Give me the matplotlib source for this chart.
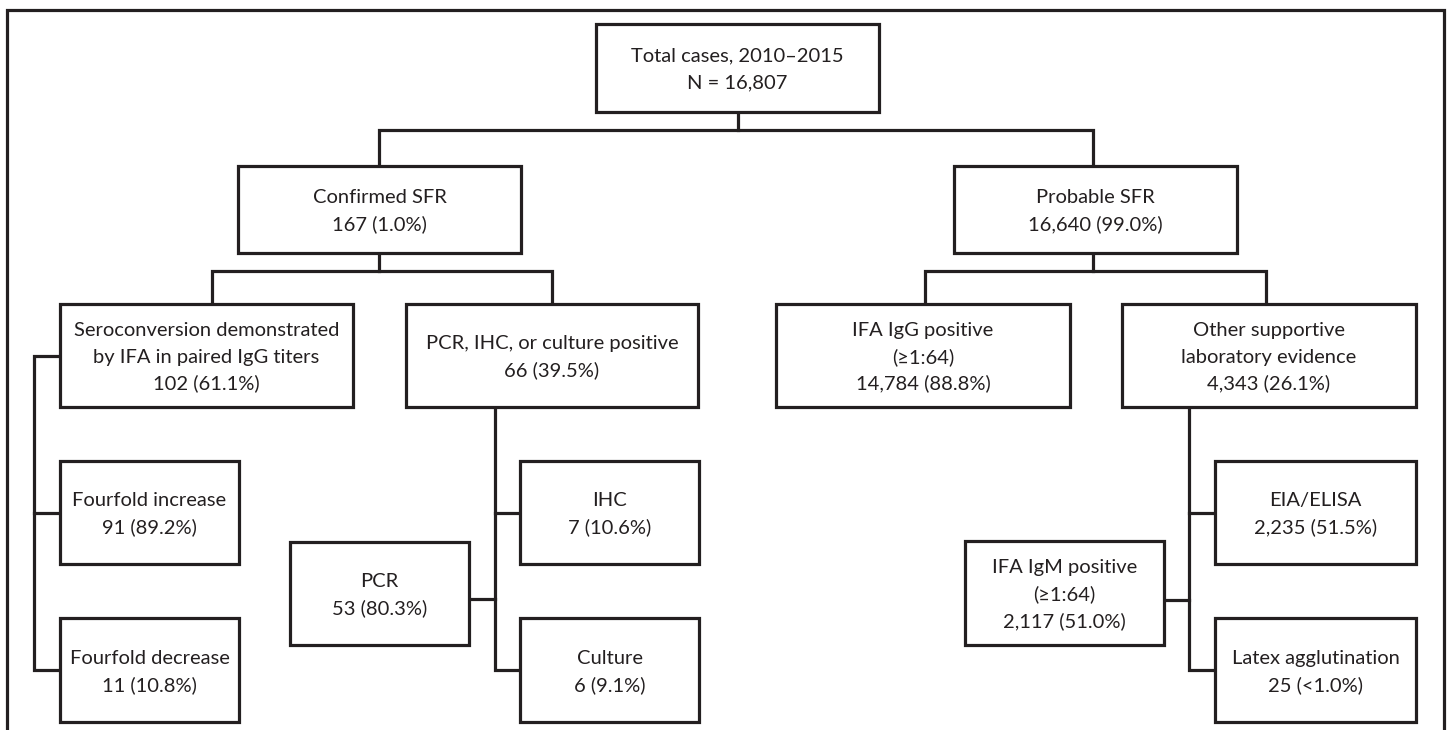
import matplotlib
matplotlib.use("Agg")
import matplotlib.pyplot as plt
from matplotlib.patches import Rectangle

# ---- data (labels, counts, percentages) ----
node_ids = ["total", "confirmed", "probable", "sero", "pcrihc", "ifaigg", "other",
            "inc", "dec", "pcr", "ihc", "culture", "igm", "eia", "latex"]
node_titles = ["Total cases, 2010\u20132015",
               "Confirmed SFR",
               "Probable SFR",
               "Seroconversion demonstrated\nby IFA in paired IgG titers",
               "PCR, IHC, or culture positive",
               "IFA IgG positive\n(\u22651:64)",
               "Other supportive\nlaboratory evidence",
               "Fourfold increase",
               "Fourfold decrease",
               "PCR",
               "IHC",
               "Culture",
               "IFA IgM positive\n(\u22651:64)",
               "EIA/ELISA",
               "Latex agglutination"]
node_counts = ["N = 16,807", "167", "16,640", "102", "66", "14,784", "4,343",
               "91", "11", "53", "7", "6", "2,117", "2,235", "25"]
node_pcts = [None, "1.0%", "99.0%", "61.1%", "39.5%", "88.8%", "26.1%",
             "89.2%", "10.8%", "80.3%", "10.6%", "9.1%", "51.0%", "51.5%", "<1.0%"]

# ---- layout (pixel coordinates, y downward) ----
W, H = 1448, 730
box_pos = {
    "total": (596, 24, 879, 112),
    "confirmed": (238, 166, 521, 253),
    "probable": (954, 166, 1237, 253),
    "sero": (60, 304, 353, 407),
    "pcrihc": (406, 304, 698, 407),
    "ifaigg": (776, 304, 1070, 407),
    "other": (1122, 304, 1416, 407),
    "inc": (60, 461, 239, 564),
    "dec": (60, 618, 239, 722),
    "pcr": (290, 542, 469, 645),
    "ihc": (520, 461, 699, 564),
    "culture": (520, 618, 699, 722),
    "igm": (965, 541, 1164, 645),
    "eia": (1215, 461, 1416, 564),
    "latex": (1215, 618, 1416, 722),
}
connectors = [
    [(738, 112), (738, 130)],
    [(379, 166), (379, 130), (1093, 130), (1093, 166)],
    [(379, 253), (379, 271)],
    [(212, 304), (212, 271), (552, 271), (552, 304)],
    [(1093, 253), (1093, 271)],
    [(925, 304), (925, 271), (1266, 271), (1266, 304)],
    [(60, 356), (34, 356), (34, 670), (60, 670)],
    [(34, 513), (60, 513)],
    [(495, 407), (495, 670), (520, 670)],
    [(495, 513), (520, 513)],
    [(469, 599), (495, 599)],
    [(1189, 407), (1189, 670), (1215, 670)],
    [(1189, 513), (1215, 513)],
    [(1164, 600), (1189, 600)],
]
frame = [(7, H + 5), (7, 9.5), (1444, 9.5), (1444, H + 5)]

INK = "#231f20"
LW = 2.3
FONT = ["Lato", "DejaVu Sans"]
LINE_STEP = 26.5

fig = plt.figure(figsize=(W / 100, H / 100), dpi=100)
ax = fig.add_axes([0, 0, 1, 1])
ax.set_xlim(0, W)
ax.set_ylim(H, 0)
ax.axis("off")

fx, fy = zip(*frame)
ax.plot(fx, fy, color=INK, lw=LW, solid_capstyle="projecting", solid_joinstyle="miter")

for seg in connectors:
    xs, ys = zip(*seg)
    ax.plot(xs, ys, color=INK, lw=LW, solid_capstyle="projecting", solid_joinstyle="miter")

for nid, title, cnt, pct in zip(node_ids, node_titles, node_counts, node_pcts):
    x0, y0, x1, y1 = box_pos[nid]
    ax.add_patch(Rectangle((x0, y0), x1 - x0, y1 - y0, facecolor="white",
                           edgecolor=INK, lw=LW, joinstyle="miter", zorder=3))
    second = cnt if pct is None else f"{cnt} ({pct})"
    lines = title.split("\n") + [second]
    n = len(lines)
    cx, cy = (x0 + x1) / 2, (y0 + y1) / 2
    for i, ln in enumerate(lines):
        ax.text(cx, cy + (i - (n - 1) / 2) * LINE_STEP, ln, ha="center",
                va="center_baseline", fontsize=14.5, family=FONT, color=INK, zorder=4)

fig.savefig("out.png", dpi=100)
